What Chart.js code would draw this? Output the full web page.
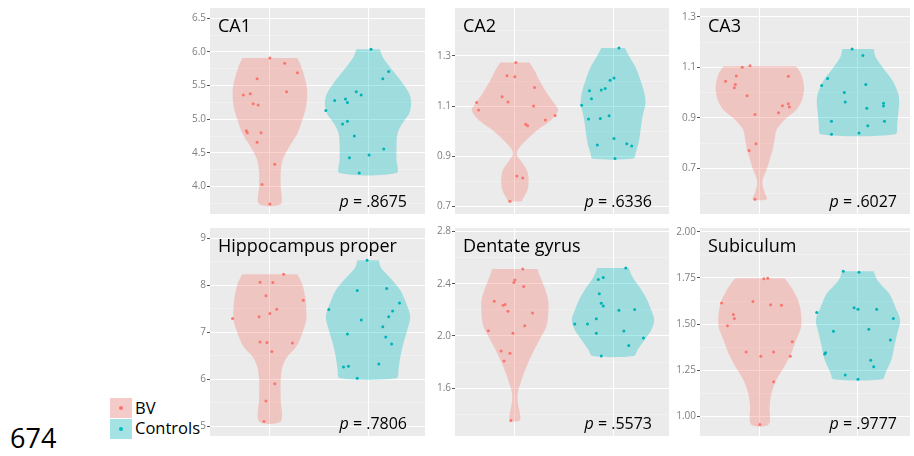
<!DOCTYPE html>
<html>
<head>
<meta charset="utf-8">
<script src="https://cdn.jsdelivr.net/npm/chart.js@4.4.1/dist/chart.umd.min.js"></script>
<style>
  body { margin: 0; background: #fff; width: 914px; height: 456px; overflow: hidden; position: relative; font-family: "Open Sans", sans-serif; }
  canvas { position: absolute; }
  .lbl { position: absolute; white-space: nowrap; line-height: 1; color: #000; }
  .key { position: absolute; width: 22px; height: 20px; }
  .key span { position: absolute; left: 9px; top: 8px; width: 4px; height: 4px; border-radius: 2px; }
</style>
</head>
<body>

<div class="lbl" style="left:10px;top:424px;font-size:27px;">674</div>
<div class="key" style="left:110px;top:398px;background:#F4CBC8;"><span style="background:#F8766D"></span></div>
<div class="key" style="left:110px;top:419px;background:#A5E2E3;"><span style="background:#00BFC4"></span></div>
<div class="lbl" style="left:135px;top:400px;font-size:16.5px;">BV</div>
<div class="lbl" style="left:135px;top:420px;font-size:16.5px;">Controls</div>

<script>
// group order: BV, Controls
var titles = ["CA1", "CA2", "CA3", "Hippocampus proper", "Dentate gyrus", "Subiculum"];
var pValues = [".8675", ".6336", ".6027", ".7806", ".5573", ".9777"];

// y tick marks and labels
var ca1Ticks = [4.0, 4.5, 5.0, 5.5, 6.0, 6.5];
var ca1TickLabels = ["4.0", "4.5", "5.0", "5.5", "6.0", "6.5"];
var ca2Ticks = [0.7, 0.9, 1.1, 1.3];
var ca2TickLabels = ["0.7", "0.9", "1.1", "1.3"];
var ca3Ticks = [0.7, 0.9, 1.1, 1.3];
var ca3TickLabels = ["0.7", "0.9", "1.1", "1.3"];
var hpTicks = [5, 6, 7, 8, 9];
var hpTickLabels = ["5", "6", "7", "8", "9"];
var dgTicks = [1.6, 2.0, 2.4, 2.8];
var dgTickLabels = ["1.6", "2.0", "2.4", "2.8"];
var subTicks = [1.00, 1.25, 1.50, 1.75, 2.00];
var subTickLabels = ["1.00", "1.25", "1.50", "1.75", "2.00"];

// CA1
var ca1BvVal = [5.91, 5.83, 5.69, 5.60, 5.41, 5.38, 5.36, 5.23, 5.21, 4.83, 4.80, 4.80, 4.66, 4.33, 4.03, 3.74];
var ca1BvJit = [0, 0.15, 0.28, -0.13, 0.17, -0.2, -0.27, -0.17, -0.12, -0.24, -0.23, -0.09, -0.13, 0.05, -0.08, 0];
var ca1CtVal = [6.04, 5.71, 5.60, 5.41, 5.36, 5.30, 5.28, 5.25, 5.13, 4.97, 4.93, 4.75, 4.56, 4.43, 4.47, 4.20];
var ca1CtJit = [0.03, 0.21, 0.15, -0.12, -0.07, -0.23, -0.34, -0.21, -0.43, -0.21, -0.26, -0.14, 0.16, -0.19, 0.01, -0.09];
var ca1BvVioY = [5.91, 5.78, 5.53, 5.38, 5.19, 4.99, 4.79, 4.60, 4.40, 4.21, 4.01, 3.74];
var ca1BvVioW = [0.28, 0.32, 0.37, 0.38, 0.37, 0.33, 0.28, 0.20, 0.13, 0.11, 0.11, 0.11];
var ca1CtVioY = [6.04, 5.92, 5.78, 5.58, 5.38, 5.24, 5.09, 4.94, 4.79, 4.60, 4.40, 4.20];
var ca1CtVioW = [0.12, 0.15, 0.22, 0.33, 0.42, 0.44, 0.42, 0.35, 0.30, 0.29, 0.29, 0.29];

// CA2
var ca2BvVal = [1.274, 1.221, 1.217, 1.174, 1.137, 1.116, 1.114, 1.084, 1.100, 1.063, 1.045, 1.028, 1.022, 0.821, 0.813, 0.721];
var ca2BvJit = [0.01, -0.08, 0, 0.2, -0.13, -0.07, -0.39, -0.37, 0.19, 0.41, 0.31, 0.11, 0.13, 0.02, 0.08, -0.05];
var ca2CtVal = [1.332, 1.212, 1.203, 1.170, 1.164, 1.161, 1.129, 1.103, 1.062, 1.049, 1.051, 0.971, 0.945, 0.950, 0.941, 0.891];
var ca2CtJit = [0.06, 0.01, -0.03, -0.08, -0.12, -0.24, -0.22, -0.32, -0.04, -0.25, -0.13, 0.01, -0.16, 0.14, 0.19, 0.02];
var ca2BvVioY = [1.274, 1.242, 1.203, 1.15, 1.11, 1.084, 1.045, 1.005, 0.966, 0.926, 0.907, 0.887, 0.847, 0.808, 0.768, 0.729, 0.721];
var ca2BvVioW = [0.15, 0.20, 0.25, 0.33, 0.40, 0.44, 0.37, 0.23, 0.12, 0.03, 0.02, 0.05, 0.12, 0.14, 0.13, 0.08, 0.07];
var ca2CtVioY = [1.332, 1.295, 1.255, 1.203, 1.15, 1.11, 1.058, 1.005, 0.953, 0.913, 0.891];
var ca2CtVioW = [0.12, 0.17, 0.23, 0.28, 0.32, 0.33, 0.30, 0.28, 0.26, 0.23, 0.21];

// CA3
var ca3BvVal = [1.107, 1.101, 1.066, 1.065, 1.045, 1.032, 1.019, 0.988, 0.956, 0.948, 0.943, 0.921, 0.914, 0.798, 0.771, 0.578];
var ca3BvJit = [-0.1, -0.18, -0.24, 0.29, -0.35, -0.25, -0.26, -0.13, 0.29, 0.23, 0.3, 0.19, -0.05, -0.04, -0.11, -0.05];
var ca3CtVal = [1.173, 1.147, 1.056, 1.028, 1.032, 1.001, 0.963, 0.958, 0.947, 0.938, 0.887, 0.887, 0.869, 0.836, 0.840];
var ca3CtJit = [-0.06, 0.05, -0.31, -0.37, 0.08, -0.14, -0.13, 0.26, 0.26, 0.09, -0.27, 0.27, 0.1, -0.27, 0.01];
var ca3BvVioY = [1.105, 1.075, 1.023, 0.971, 0.931, 0.892, 0.853, 0.814, 0.774, 0.735, 0.696, 0.657, 0.631, 0.605, 0.578];
var ca3BvVioW = [0.37, 0.42, 0.45, 0.43, 0.37, 0.25, 0.17, 0.15, 0.13, 0.10, 0.07, 0.03, 0.03, 0.05, 0.07];
var ca3CtVioY = [1.173, 1.141, 1.101, 1.049, 0.997, 0.964, 0.918, 0.879, 0.836];
var ca3CtVioW = [0.16, 0.18, 0.25, 0.35, 0.41, 0.42, 0.41, 0.40, 0.38];

// Hippocampus proper
var hpBvVal = [8.235, 8.067, 8.060, 7.779, 7.681, 7.491, 7.400, 7.330, 7.295, 6.796, 6.782, 6.775, 6.593, 5.905, 5.540, 5.105];
var hpBvJit = [0.14, -0.1, 0.03, -0.04, 0.34, 0.07, 0, -0.11, -0.38, -0.1, -0.03, 0.23, 0.02, 0.05, -0.04, -0.06];
var hpCtVal = [8.530, 7.891, 7.933, 7.625, 7.456, 7.484, 7.330, 7.260, 7.119, 6.965, 6.902, 6.754, 6.326, 6.277, 6.263, 6.025];
var hpCtJit = [-0.01, -0.11, 0.19, 0.32, 0.25, -0.4, 0.21, -0.07, 0.15, -0.21, 0.18, 0.24, 0.11, -0.2, -0.25, -0.11];
var hpBvVioY = [8.235, 8.03, 7.75, 7.54, 7.26, 6.98, 6.70, 6.49, 6.28, 6.0, 5.58, 5.105];
var hpBvVioW = [0.28, 0.33, 0.36, 0.37, 0.37, 0.33, 0.27, 0.18, 0.13, 0.11, 0.11, 0.11];
var hpCtVioY = [8.53, 8.38, 8.17, 7.89, 7.61, 7.33, 7.05, 6.77, 6.49, 6.21, 6.025];
var hpCtVioW = [0.11, 0.13, 0.22, 0.33, 0.39, 0.43, 0.40, 0.36, 0.33, 0.31, 0.29];

// Dentate gyrus
var dgBvVal = [2.514, 2.430, 2.410, 2.380, 2.266, 2.241, 2.235, 2.190, 2.177, 2.078, 2.040, 2.020, 1.884, 1.868, 1.808, 1.352];
var dgBvJit = [0.08, 0, -0.01, 0.09, -0.21, -0.1, -0.12, -0.07, 0.18, 0.1, -0.27, -0.02, -0.14, -0.05, -0.11, -0.04];
var dgCtVal = [2.522, 2.448, 2.433, 2.324, 2.251, 2.230, 2.197, 2.203, 2.132, 2.091, 2.091, 2.020, 2.038, 1.985, 1.927, 1.846];
var dgCtJit = [0.13, -0.1, -0.15, -0.14, -0.12, -0.1, 0.06, 0.22, -0.17, -0.39, -0.26, -0.17, 0.11, 0.31, 0.16, -0.12];
var dgBvVioY = [2.514, 2.45, 2.375, 2.273, 2.172, 2.071, 1.97, 1.868, 1.767, 1.666, 1.565, 1.489, 1.413, 1.352];
var dgBvVioW = [0.23, 0.26, 0.30, 0.34, 0.34, 0.32, 0.25, 0.18, 0.12, 0.07, 0.03, 0.03, 0.05, 0.05];
var dgCtVioY = [2.522, 2.451, 2.375, 2.273, 2.197, 2.122, 2.046, 1.97, 1.894, 1.846];
var dgCtVioW = [0.16, 0.20, 0.27, 0.35, 0.39, 0.42, 0.39, 0.32, 0.25, 0.21];

// Subiculum
var subBvVal = [1.748, 1.746, 1.623, 1.614, 1.605, 1.602, 1.552, 1.530, 1.491, 1.405, 1.350, 1.350, 1.327, 1.327, 1.188, 0.957];
var subBvJit = [0.08, 0.04, -0.07, -0.39, 0.11, 0.22, -0.27, -0.26, -0.33, 0.33, -0.14, 0.14, 0.01, 0.31, 0.14, 0];
var subCtVal = [1.786, 1.780, 1.589, 1.580, 1.580, 1.563, 1.530, 1.473, 1.461, 1.414, 1.345, 1.339, 1.305, 1.270, 1.225, 1.202];
var subCtJit = [-0.15, 0.01, -0.04, 0, 0.19, -0.42, 0.36, 0.11, -0.25, 0.33, -0.33, -0.34, 0.13, 0.16, -0.13, 0];
var subBvVioY = [1.748, 1.70, 1.629, 1.557, 1.486, 1.414, 1.343, 1.271, 1.20, 1.129, 1.057, 0.957];
var subBvVioW = [0.25, 0.32, 0.39, 0.42, 0.42, 0.37, 0.32, 0.25, 0.17, 0.12, 0.10, 0.09];
var subCtVioY = [1.786, 1.736, 1.664, 1.593, 1.521, 1.45, 1.379, 1.307, 1.236, 1.202];
var subCtVioW = [0.16, 0.20, 0.32, 0.38, 0.43, 0.40, 0.37, 0.34, 0.28, 0.25];

// layout of the 2x3 grid (pixels)
var cols = [
  { left: 210, right: 429, cat1: 271, pRight: 22 },
  { left: 455, right: 673, cat1: 516, pRight: 21 },
  { left: 700, right: 914, cat1: 761, pRight: 17 }
];
var rows = [{ top: 7, bottom: 215 }, { top: 227, bottom: 437 }];

var panels = [
  { col: 0, row: 0, yMin: 3.593, yMax: 6.652, ticks: ca1Ticks, labels: ca1TickLabels,
    bv: [ca1BvVal, ca1BvJit, ca1BvVioY, ca1BvVioW], ct: [ca1CtVal, ca1CtJit, ca1CtVioY, ca1CtVioW] },
  { col: 1, row: 0, yMin: 0.670, yMax: 1.491, ticks: ca2Ticks, labels: ca2TickLabels,
    bv: [ca2BvVal, ca2BvJit, ca2BvVioY, ca2BvVioW], ct: [ca2CtVal, ca2CtJit, ca2CtVioY, ca2CtVioW] },
  { col: 2, row: 0, yMin: 0.520, yMax: 1.335, ticks: ca3Ticks, labels: ca3TickLabels,
    bv: [ca3BvVal, ca3BvJit, ca3BvVioY, ca3BvVioW], ct: [ca3CtVal, ca3CtJit, ca3CtVioY, ca3CtVioW] },
  { col: 0, row: 1, yMin: 4.797, yMax: 9.218, ticks: hpTicks, labels: hpTickLabels,
    bv: [hpBvVal, hpBvJit, hpBvVioY, hpBvVioW], ct: [hpCtVal, hpCtJit, hpCtVioY, hpCtVioW] },
  { col: 1, row: 1, yMin: 1.233, yMax: 2.828, ticks: dgTicks, labels: dgTickLabels,
    bv: [dgBvVal, dgBvJit, dgBvVioY, dgBvVioW], ct: [dgCtVal, dgCtJit, dgCtVioY, dgCtVioW] },
  { col: 2, row: 1, yMin: 0.895, yMax: 2.020, ticks: subTicks, labels: subTickLabels,
    bv: [subBvVal, subBvJit, subBvVioY, subBvVioW], ct: [subCtVal, subCtJit, subCtVioY, subCtVioW] }
];

var bgPlugin = {
  id: 'panelBg',
  beforeDraw: function (chart) {
    var a = chart.chartArea, g = chart.ctx;
    g.save();
    g.fillStyle = '#EBEBEB';
    g.fillRect(a.left, a.top, a.right - a.left, a.bottom - a.top);
    g.restore();
  }
};

function jitterPoints(vals, jit, c) {
  var out = [];
  for (var i = 0; i < vals.length; i++) out.push({ x: c + jit[i], y: vals[i] });
  return out;
}

// outline: down the right side, back up the left side
function violinOutline(ys, ws, c) {
  var out = [];
  for (var i = 0; i < ys.length; i++) out.push({ x: c + ws[i], y: ys[i] });
  for (var j = ys.length - 1; j >= 0; j--) out.push({ x: c - ws[j], y: ys[j] });
  return out;
}

function isMajor(p, v) {
  return p.ticks.some(function (t) { return Math.abs(t - v) < 1e-9; });
}

var axisW = 34, pad = 6;

panels.forEach(function (p, k) {
  var col = cols[p.col], row = rows[p.row];
  var cv = document.createElement('canvas');
  cv.width = col.right - col.left + axisW;
  cv.height = row.bottom - row.top + 2 * pad;
  cv.style.left = (col.left - axisW) + 'px';
  cv.style.top = (row.top - pad) + 'px';
  document.body.appendChild(cv);

  // major ticks plus ggplot-style minor breaks halfway between them
  var step = p.ticks[1] - p.ticks[0];
  var tickVals = p.ticks.slice();
  for (var i = -1; i < p.ticks.length; i++) {
    var m = p.ticks[0] + (i + 0.5) * step;
    if (m > p.yMin && m < p.yMax) tickVals.push(m);
  }
  tickVals.sort(function (a, b) { return a - b; });

  var xMin = 1 - (col.cat1 - col.left) / 100;
  var xMax = 1 + (col.right - col.cat1) / 100;

  new Chart(cv, {
    type: 'scatter',
    data: {
      datasets: [
        { data: jitterPoints(p.bv[0], p.bv[1], 1), backgroundColor: '#F8766D', pointRadius: 1.5, borderWidth: 0, order: 1 },
        { data: jitterPoints(p.ct[0], p.ct[1], 2), backgroundColor: '#00B3B8', pointRadius: 1.5, borderWidth: 0, order: 1 },
        { data: violinOutline(p.bv[2], p.bv[3], 1), showLine: true, fill: 'shape', backgroundColor: 'rgba(248,118,109,0.32)',
          borderWidth: 0, pointRadius: 0, tension: 0.3, order: 2 },
        { data: violinOutline(p.ct[2], p.ct[3], 2), showLine: true, fill: 'shape', backgroundColor: 'rgba(0,191,196,0.32)',
          borderWidth: 0, pointRadius: 0, tension: 0.3, order: 2 }
      ]
    },
    options: {
      responsive: false,
      animation: false,
      devicePixelRatio: 1,
      events: [],
      layout: { padding: { top: pad, bottom: pad, left: 0, right: 0 } },
      plugins: { legend: { display: false }, tooltip: { enabled: false } },
      scales: {
        x: {
          type: 'linear', min: xMin, max: xMax,
          afterBuildTicks: function (s) { s.ticks = [{ value: 1 }, { value: 2 }]; },
          afterFit: function (s) { s.height = 0; },
          ticks: { display: false },
          grid: { color: '#FFFFFF', lineWidth: 1, drawTicks: false },
          border: { display: false }
        },
        y: {
          type: 'linear', min: p.yMin, max: p.yMax,
          afterBuildTicks: function (s) { s.ticks = tickVals.map(function (v) { return { value: v }; }); },
          afterFit: function (s) { s.width = axisW; },
          ticks: {
            autoSkip: false, padding: 1, color: '#7F7F7F',
            font: { family: 'Open Sans', size: 10 },
            callback: function (v) {
              for (var i = 0; i < p.ticks.length; i++) if (Math.abs(p.ticks[i] - v) < 1e-9) return p.labels[i];
              return '';
            }
          },
          grid: {
            tickLength: 3,
            color: function (c) { return c.tick && isMajor(p, c.tick.value) ? '#FFFFFF' : 'rgba(255,255,255,0.55)'; },
            lineWidth: function (c) { return c.tick && isMajor(p, c.tick.value) ? 1 : 0.6; },
            tickColor: function (c) { return c.tick && isMajor(p, c.tick.value) ? '#555555' : 'rgba(0,0,0,0)'; }
          },
          border: { display: false }
        }
      }
    },
    plugins: [bgPlugin]
  });

  var t = document.createElement('div');
  t.className = 'lbl';
  t.style.left = (col.left + 8) + 'px';
  t.style.top = (row.top + 9) + 'px';
  t.style.fontSize = '18px';
  t.textContent = titles[k];
  document.body.appendChild(t);

  var pv = document.createElement('div');
  pv.className = 'lbl';
  pv.style.right = (914 - col.right + col.pRight) + 'px';
  pv.style.top = (row.bottom - 22) + 'px';
  pv.style.fontSize = '16px';
  pv.innerHTML = '<i>p</i> = ' + pValues[k];
  document.body.appendChild(pv);
});
</script>
</body>
</html>
